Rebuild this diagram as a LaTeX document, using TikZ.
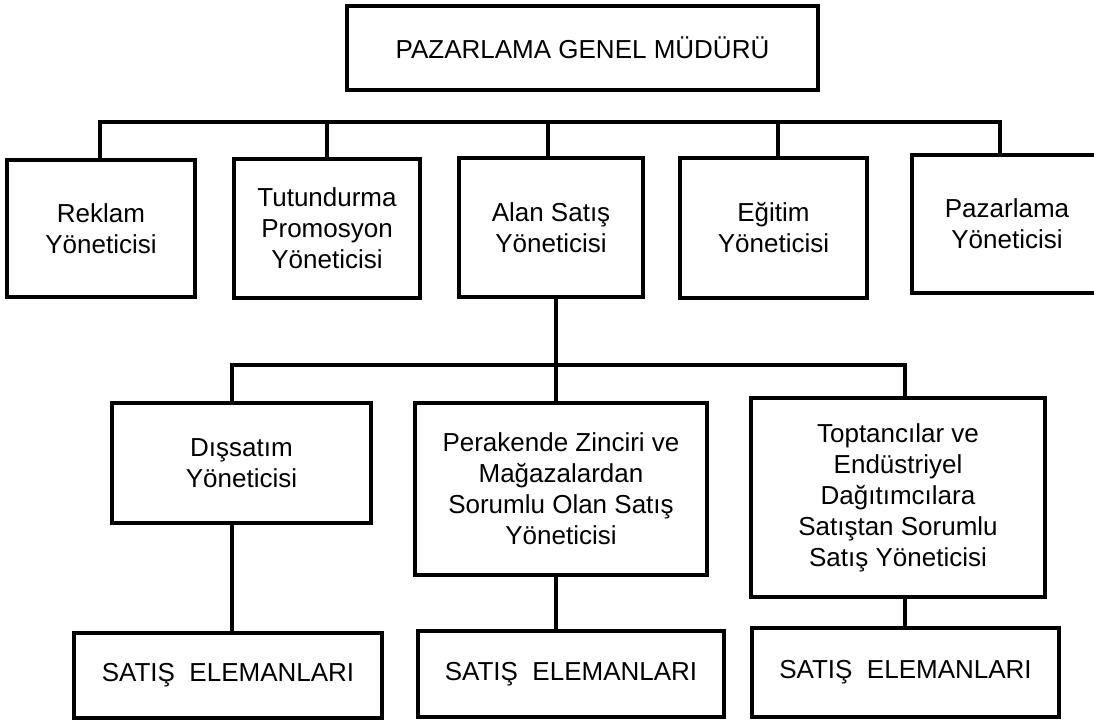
\documentclass[tikz,border=0pt]{standalone}
\usepackage{fontspec}
\setmainfont{Liberation Sans}
\begin{document}
\begin{tikzpicture}[x=1pt,y=-1pt,
  box/.style={draw=black,line width=3.2pt,inner sep=0pt,align=center,
    font=\fontsize{26}{31}\selectfont},
  conn/.style={draw=black,line width=3.2pt,line join=miter}]
\useasboundingbox[fill=white] (0,0) rectangle (1094,721);

% top level
\node[box,minimum width=471pt,minimum height=84pt] (gm) at (582.5,48) {PAZARLAMA GENEL MÜDÜRÜ};

% second level
\node[box,minimum width=188pt,minimum height=137pt] (reklam) at (101,228.5) {Reklam\\Yöneticisi};
\node[box,minimum width=186pt,minimum height=139pt] (tutun) at (327,228.5) {Tutundurma\\Promosyon\\Yöneticisi};
\node[box,minimum width=184pt,minimum height=139pt] (alan) at (551,227.5) {Alan Satış\\Yöneticisi};
\node[box,minimum width=187pt,minimum height=140pt] (egitim) at (773.5,228) {Eğitim\\Yöneticisi};
\node[box,minimum width=190pt,minimum height=138pt] (pazar) at (1007,224) {Pazarlama\\Yöneticisi};

% third level
\node[box,minimum width=259pt,minimum height=120pt] (dis) at (241.5,463) {Dışsatım\\Yöneticisi};
\node[box,minimum width=292pt,minimum height=172pt] (perak) at (561,489) {Perakende Zinciri ve\\Mağazalardan\\Sorumlu Olan Satış\\Yöneticisi};
\node[box,minimum width=294pt,minimum height=199pt] (topt) at (898,497.5) {Toptancılar ve\\Endüstriyel\\Dağıtımcılara\\Satıştan Sorumlu\\Satış Yöneticisi};

% sales staff
\node[box,minimum width=308pt,minimum height=85pt] (s1) at (228,675.5) {SATIŞ\ \ ELEMANLARI};
\node[box,minimum width=306pt,minimum height=86pt] (s2) at (571,674) {SATIŞ\ \ ELEMANLARI};
\node[box,minimum width=307pt,minimum height=89pt] (s3) at (905.5,672.5) {SATIŞ\ \ ELEMANLARI};

% upper bus
\coordinate (b1l) at (100,122);
\coordinate (b1r) at (1000,122);
\coordinate (b1t) at (327,122);
\coordinate (b1a) at (548,122);
\coordinate (b1e) at (778,122);
\draw[conn] (reklam.north -| b1l) -- (b1l) -- (b1r) -- (b1r |- pazar.north);
\draw[conn] (b1t) -- (b1t |- tutun.north);
\draw[conn] (b1a) -- (b1a |- alan.north);
\draw[conn] (b1e) -- (b1e |- egitim.north);

% lower bus
\coordinate (b2l) at (232,365);
\coordinate (b2r) at (905,365);
\coordinate (b2m) at (556,365);
\draw[conn] (dis.north -| b2l) -- (b2l) -- (b2r) -- (b2r |- topt.north);
\draw[conn] (alan.south -| b2m) -- (perak.north -| b2m);

% managers to sales staff
\draw[conn] (dis.south -| b2l) -- (s1.north -| b2l);
\draw[conn] (perak.south -| b2m) -- (s2.north -| b2m);
\draw[conn] (topt.south -| b2r) -- (s3.north -| b2r);
\end{tikzpicture}
\end{document}
